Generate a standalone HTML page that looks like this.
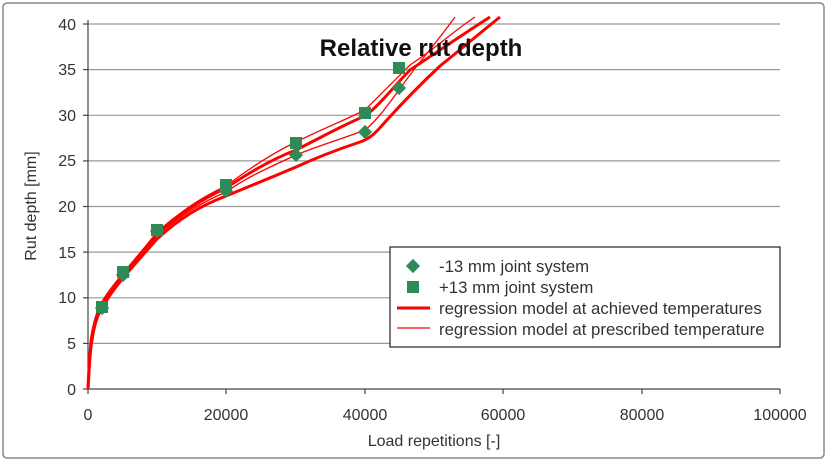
<!DOCTYPE html>
<html><head><style>body{margin:0;background:#fff}svg{display:block}</style></head><body>
<svg width="827" height="462" xmlns="http://www.w3.org/2000/svg" font-family="Liberation Sans, sans-serif">
<rect x="3" y="3" width="821" height="455" rx="4" fill="#fff" stroke="#888" stroke-width="1.5"/>
<g stroke="#999" stroke-width="1.2">
<line x1="88" y1="24" x2="780" y2="24"/><line x1="88" y1="69.6" x2="780" y2="69.6"/>
<line x1="88" y1="115.3" x2="780" y2="115.3"/><line x1="88" y1="160.9" x2="780" y2="160.9"/>
<line x1="88" y1="206.5" x2="780" y2="206.5"/><line x1="88" y1="252.1" x2="780" y2="252.1"/>
<line x1="88" y1="297.8" x2="780" y2="297.8"/><line x1="88" y1="343.4" x2="780" y2="343.4"/>
</g>
<g stroke="#444" stroke-width="1.2">
<line x1="88" y1="389" x2="780" y2="389"/><line x1="88" y1="20" x2="88" y2="389"/>
<line x1="83" y1="24" x2="88" y2="24"/><line x1="83" y1="69.6" x2="88" y2="69.6"/><line x1="83" y1="115.3" x2="88" y2="115.3"/><line x1="83" y1="160.9" x2="88" y2="160.9"/><line x1="83" y1="206.5" x2="88" y2="206.5"/><line x1="83" y1="252.1" x2="88" y2="252.1"/><line x1="83" y1="297.8" x2="88" y2="297.8"/><line x1="83" y1="343.4" x2="88" y2="343.4"/><line x1="83" y1="389" x2="88" y2="389"/>
<line x1="88" y1="389" x2="88" y2="394"/><line x1="226" y1="389" x2="226" y2="394"/><line x1="365" y1="389" x2="365" y2="394"/><line x1="503" y1="389" x2="503" y2="394"/><line x1="642" y1="389" x2="642" y2="394"/><line x1="780" y1="389" x2="780" y2="394"/>
</g>
<g font-size="16" fill="#333" text-anchor="end">
<text x="76" y="30">40</text><text x="76" y="75">35</text><text x="76" y="121">30</text><text x="76" y="166">25</text><text x="76" y="212">20</text><text x="76" y="258">15</text><text x="76" y="303">10</text><text x="76" y="349">5</text><text x="76" y="395">0</text>
</g>
<g font-size="16" fill="#333" text-anchor="middle">
<text x="88" y="420">0</text><text x="226" y="420">20000</text><text x="365" y="420">40000</text><text x="503" y="420">60000</text><text x="642" y="420">80000</text><text x="780" y="420">100000</text>
<text x="434" y="446">Load repetitions [-]</text>
</g>
<text transform="translate(36,206) rotate(-90)" font-size="16" fill="#333" text-anchor="middle">Rut depth [mm]</text>
<g fill="none" stroke="#f00">
<path stroke-width="3" d="M88,389 C89,370 90,350 92,340 C95,320 100,310 104,305 C112,290 125,275 157,239 C180,218 200,206 226,196 C250,186 275,176 296,167 C320,156 345,147 360,142 C372,138 378,130 386,121 C405,100 425,80 440,66 C460,50 480,33 500,17"/>
<path stroke-width="3" d="M88,389 C89,370 90,345 92,335 C95,318 100,305 104,300 C112,287 125,272 157,234 C180,214 200,200 226,188 C250,172 275,158 296,150 C320,138 345,124 365,116 C380,105 395,85 410,70 C440,50 465,33 490,17"/>
<path stroke-width="1.3" d="M88,389 C89,370 90,350 92,338 C96,318 101,306 105,302 C113,288 126,273 157,236 C180,216 200,203 226,192 C250,175 275,165 296,155 C320,145 345,138 365,130 C380,118 395,95 410,75 C425,55 440,38 455,17"/>
<path stroke-width="1.3" d="M88,389 C89,370 90,346 92,336 C96,316 101,304 105,300 C113,286 126,271 157,232 C180,212 200,198 226,186 C250,168 275,152 296,142 C320,130 345,120 365,110 C380,95 395,80 410,65 C440,45 455,30 475,17"/>
</g>
<g fill="#2e8b57">
<g transform="translate(102,308)"><rect x="-5" y="-5" width="10" height="10" transform="rotate(45)"/></g>
<g transform="translate(123,275)"><rect x="-5" y="-5" width="10" height="10" transform="rotate(45)"/></g>
<g transform="translate(157,231)"><rect x="-5" y="-5" width="10" height="10" transform="rotate(45)"/></g>
<g transform="translate(226,191)"><rect x="-5" y="-5" width="10" height="10" transform="rotate(45)"/></g>
<g transform="translate(296,155)"><rect x="-5" y="-5" width="10" height="10" transform="rotate(45)"/></g>
<g transform="translate(365,132)"><rect x="-5" y="-5" width="10" height="10" transform="rotate(45)"/></g>
<g transform="translate(399,88)"><rect x="-5" y="-5" width="10" height="10" transform="rotate(45)"/></g>
<rect x="96" y="301" width="12" height="12"/><rect x="117" y="266" width="12" height="12"/><rect x="151" y="224" width="12" height="12"/><rect x="220" y="179" width="12" height="12"/><rect x="290" y="137" width="12" height="12"/><rect x="359" y="107" width="12" height="12"/><rect x="393" y="62" width="12" height="12"/>
</g>
<text x="421" y="56" font-size="24" font-weight="bold" fill="#111" text-anchor="middle">Relative rut depth</text>
<rect x="390" y="247" width="390" height="100" fill="#fff" stroke="#222" stroke-width="1.2"/>
<g fill="#2e8b57">
<rect x="-5" y="-5" width="10" height="10" transform="translate(413,266) rotate(45)"/>
<rect x="407" y="281" width="12" height="12"/>
</g>
<line x1="397" y1="308" x2="430" y2="308" stroke="#f00" stroke-width="3"/>
<line x1="397" y1="328" x2="430" y2="328" stroke="#f00" stroke-width="1.3"/>
<g font-size="16.8" fill="#333">
<text x="439" y="272">-13 mm joint system</text>
<text x="439" y="293">+13 mm joint system</text>
<text x="439" y="314">regression model at achieved temperatures</text>
<text x="439" y="335">regression model at prescribed temperature</text>
</g>
</svg>
</body></html>
